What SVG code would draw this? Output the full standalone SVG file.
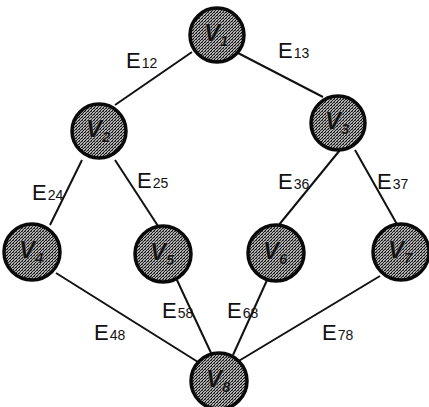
<svg xmlns="http://www.w3.org/2000/svg" width="429" height="407" viewBox="0 0 429 407">
  <defs>
    <!-- halftone stipple used to fill the vertex discs -->
    <pattern id="stipple" width="3" height="3" patternUnits="userSpaceOnUse">
      <rect width="3" height="3" fill="#b0b0b0"/>
      <rect x="0" y="0" width="1" height="1" fill="#111"/>
      <rect x="2" y="1" width="1" height="1" fill="#222"/>
      <rect x="1" y="2" width="1" height="1" fill="#111"/>
      <rect x="1" y="0" width="1" height="1" fill="#555"/>
    </pattern>
  </defs>
  <style>
    .edge { stroke: #111; stroke-width: 2; fill: none; stroke-linecap: butt; }
    .disc { fill: url(#stipple); stroke: #0a0a0a; stroke-width: 3.5; }
    .vname { font-family: "Liberation Sans", Arial, sans-serif; font-style: italic; font-weight: bold; fill: #141414; stroke: #d0d0d0; stroke-width: 0.6; paint-order: stroke; }
    .vname .sub { font-size: 15px; }
    .elabel { font-family: "Liberation Sans", Arial, sans-serif; font-size: 22px; fill: #111; }
    .elabel .sub { font-size: 14px; }
  </style>
  <rect width="429" height="407" fill="#fff"/>

  <!-- connectors -->
  <g id="edges">
    <line class="edge" x1="192" y1="52" x2="115" y2="105"/>
    <line class="edge" x1="238" y1="53" x2="323" y2="97"/>
    <line class="edge" x1="82" y1="160" x2="50" y2="225"/>
    <line class="edge" x1="115" y1="160" x2="158" y2="226"/>
    <line class="edge" x1="340" y1="150" x2="278" y2="226"/>
    <line class="edge" x1="355" y1="150" x2="398" y2="226"/>
    <line class="edge" x1="56" y1="273" x2="198" y2="362"/>
    <line class="edge" x1="176" y1="278" x2="212" y2="355"/>
    <line class="edge" x1="268" y1="278" x2="233" y2="355"/>
    <line class="edge" x1="380" y1="276" x2="237" y2="362"/>
  </g>

  <!-- edge labels -->
  <g id="edge-labels">
    <text class="elabel" x="126" y="68">E<tspan class="sub" dx="1">12</tspan></text>
    <text class="elabel" x="278" y="58">E<tspan class="sub" dx="1">13</tspan></text>
    <text class="elabel" x="32" y="200">E<tspan class="sub" dx="1">24</tspan></text>
    <text class="elabel" x="137" y="188">E<tspan class="sub" dx="1">25</tspan></text>
    <text class="elabel" x="278" y="189">E<tspan class="sub" dx="1">36</tspan></text>
    <text class="elabel" x="377" y="189">E<tspan class="sub" dx="1">37</tspan></text>
    <text class="elabel" x="94" y="340">E<tspan class="sub" dx="1">48</tspan></text>
    <text class="elabel" x="162" y="318">E<tspan class="sub" dx="1">58</tspan></text>
    <text class="elabel" x="227" y="318">E<tspan class="sub" dx="1">68</tspan></text>
    <text class="elabel" x="322" y="340">E<tspan class="sub" dx="1">78</tspan></text>
  </g>

  <!-- vertices: disc plus italic V with subscript index -->
  <g id="v1"><circle class="disc" cx="217" cy="35" r="27"/><text class="vname" x="204" y="41" font-size="24">V<tspan class="sub" dy="5">1</tspan></text></g>
  <g id="v2"><circle class="disc" cx="99" cy="131" r="27"/><text class="vname" x="86" y="137" font-size="24">V<tspan class="sub" dy="5">2</tspan></text></g>
  <g id="v3"><circle class="disc" cx="338" cy="123" r="27"/><text class="vname" x="325" y="129" font-size="24">V<tspan class="sub" dy="5">3</tspan></text></g>
  <g id="v4"><circle class="disc" cx="32" cy="252" r="28"/><text class="vname" x="19" y="258" font-size="24">V<tspan class="sub" dy="5">4</tspan></text></g>
  <g id="v5"><circle class="disc" cx="163" cy="254" r="28"/><text class="vname" x="150" y="260" font-size="24">V<tspan class="sub" dy="5">5</tspan></text></g>
  <g id="v6"><circle class="disc" cx="276" cy="253" r="28"/><text class="vname" x="263" y="259" font-size="24">V<tspan class="sub" dy="5">6</tspan></text></g>
  <g id="v7"><circle class="disc" cx="401" cy="252" r="28"/><text class="vname" x="388" y="258" font-size="24">V<tspan class="sub" dy="5">7</tspan></text></g>
  <g id="v8"><circle class="disc" cx="219" cy="381" r="28"/><text class="vname" x="206" y="387" font-size="24">V<tspan class="sub" dy="5">8</tspan></text></g>
</svg>
